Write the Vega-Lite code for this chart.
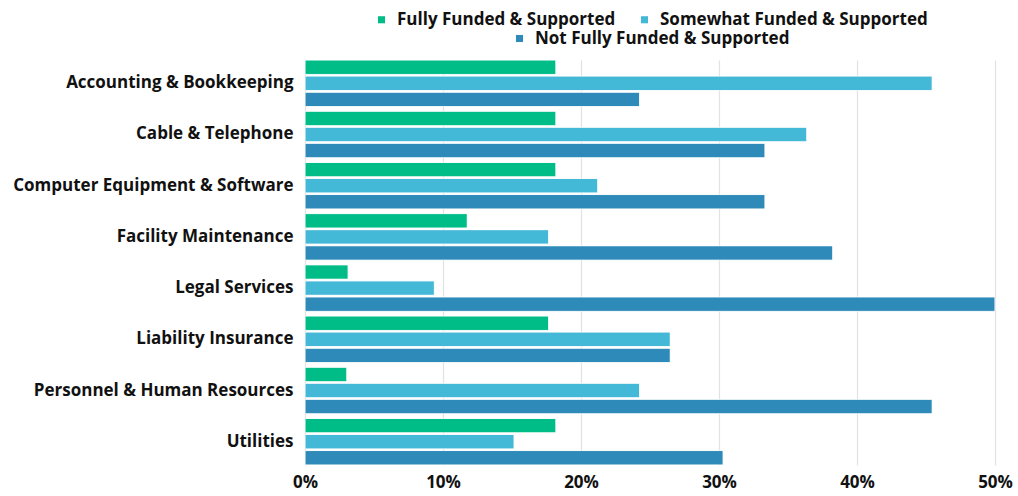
{
  "$schema": "https://vega.github.io/schema/vega-lite/v6.json",
  "width": 690,
  "height": 405,
  "autosize": {"type": "none"},
  "padding": {"left": 305, "top": 60, "right": 23, "bottom": 31},
  "background": "white",
  "data": {"values": [
    {"category": "Accounting & Bookkeeping", "series": "Fully Funded & Supported", "value": 0.1818},
    {"category": "Accounting & Bookkeeping", "series": "Somewhat Funded & Supported", "value": 0.4545},
    {"category": "Accounting & Bookkeeping", "series": "Not Fully Funded & Supported", "value": 0.2424},
    {"category": "Cable & Telephone", "series": "Fully Funded & Supported", "value": 0.1818},
    {"category": "Cable & Telephone", "series": "Somewhat Funded & Supported", "value": 0.3636},
    {"category": "Cable & Telephone", "series": "Not Fully Funded & Supported", "value": 0.3333},
    {"category": "Computer Equipment & Software", "series": "Fully Funded & Supported", "value": 0.1818},
    {"category": "Computer Equipment & Software", "series": "Somewhat Funded & Supported", "value": 0.2121},
    {"category": "Computer Equipment & Software", "series": "Not Fully Funded & Supported", "value": 0.3333},
    {"category": "Facility Maintenance", "series": "Fully Funded & Supported", "value": 0.1176},
    {"category": "Facility Maintenance", "series": "Somewhat Funded & Supported", "value": 0.1765},
    {"category": "Facility Maintenance", "series": "Not Fully Funded & Supported", "value": 0.3824},
    {"category": "Legal Services", "series": "Fully Funded & Supported", "value": 0.03125},
    {"category": "Legal Services", "series": "Somewhat Funded & Supported", "value": 0.09375},
    {"category": "Legal Services", "series": "Not Fully Funded & Supported", "value": 0.5},
    {"category": "Liability Insurance", "series": "Fully Funded & Supported", "value": 0.1765},
    {"category": "Liability Insurance", "series": "Somewhat Funded & Supported", "value": 0.2647},
    {"category": "Liability Insurance", "series": "Not Fully Funded & Supported", "value": 0.2647},
    {"category": "Personnel & Human Resources", "series": "Fully Funded & Supported", "value": 0.0303},
    {"category": "Personnel & Human Resources", "series": "Somewhat Funded & Supported", "value": 0.2424},
    {"category": "Personnel & Human Resources", "series": "Not Fully Funded & Supported", "value": 0.4545},
    {"category": "Utilities", "series": "Fully Funded & Supported", "value": 0.1818},
    {"category": "Utilities", "series": "Somewhat Funded & Supported", "value": 0.1515},
    {"category": "Utilities", "series": "Not Fully Funded & Supported", "value": 0.303}
  ]},
  "encoding": {
    "y": {
      "field": "category", "type": "nominal",
      "sort": ["Accounting & Bookkeeping", "Cable & Telephone", "Computer Equipment & Software", "Facility Maintenance", "Legal Services", "Liability Insurance", "Personnel & Human Resources", "Utilities"],
      "scale": {"paddingInner": 0.09, "paddingOuter": 0},
      "axis": {"title": null, "domain": false, "ticks": false, "labelPadding": 12, "labelFontSize": 17, "labelFont": "Open Sans", "labelFontWeight": "bold", "labelColor": "#111111", "labelLimit": 400}
    },
    "yOffset": {
      "field": "series", "type": "nominal",
      "scale": {"domain": ["Fully Funded & Supported", "Somewhat Funded & Supported", "Not Fully Funded & Supported"], "paddingInner": 0.1, "paddingOuter": 0}
    },
    "x": {
      "field": "value", "type": "quantitative",
      "scale": {"domain": [0, 0.5], "nice": false},
      "axis": {"title": null, "format": ".0%", "values": [0, 0.1, 0.2, 0.3, 0.4, 0.5], "domain": false, "ticks": false, "grid": true, "gridColor": "#e2e2e2", "gridWidth": 1.2, "labelFlush": false, "labelOverlap": false, "labelPadding": 9, "labelFontSize": 17, "labelFont": "Open Sans", "labelFontWeight": "bold", "labelColor": "#111111"}
    }
  },
  "layer": [
    {
      "transform": [{"filter": "datum.series != 'Not Fully Funded & Supported'"}],
      "mark": {"type": "bar", "stroke": "#ffffff", "strokeOpacity": 0.6, "strokeWidth": 1, "cornerRadius": 1},
      "encoding": {
        "fill": {
          "field": "series", "type": "nominal",
          "scale": {"domain": ["Fully Funded & Supported", "Somewhat Funded & Supported"], "range": ["#00bc87", "#43b8d7"]},
          "legend": {"title": null, "orient": "top", "direction": "horizontal", "symbolType": "square", "symbolSize": 50, "symbolStrokeWidth": 0, "labelFontSize": 17, "labelFont": "Open Sans", "labelFontWeight": "bold", "labelColor": "#111111", "labelOffset": 7, "columnPadding": 20, "labelLimit": 400, "offset": 12}
        }
      }
    },
    {
      "transform": [{"filter": "datum.series == 'Not Fully Funded & Supported'"}],
      "mark": {"type": "bar", "stroke": "#ffffff", "strokeOpacity": 0.6, "strokeWidth": 1, "cornerRadius": 1},
      "encoding": {
        "fill": {
          "field": "series", "type": "nominal",
          "scale": {"domain": ["Not Fully Funded & Supported"], "range": ["#2d8ab9"]},
          "legend": {"title": null, "orient": "top", "direction": "horizontal", "symbolType": "square", "symbolSize": 50, "symbolStrokeWidth": 0, "labelFontSize": 17, "labelFont": "Open Sans", "labelFontWeight": "bold", "labelColor": "#111111", "labelOffset": 7, "columnPadding": 20, "labelLimit": 400, "offset": 12}
        }
      }
    }
  ],
  "resolve": {"scale": {"fill": "independent"}},
  "config": {
    "view": {"stroke": null},
    "legend": {"layout": {"top": {"anchor": "middle", "direction": "vertical", "center": true, "margin": 2}}}
  }
}
